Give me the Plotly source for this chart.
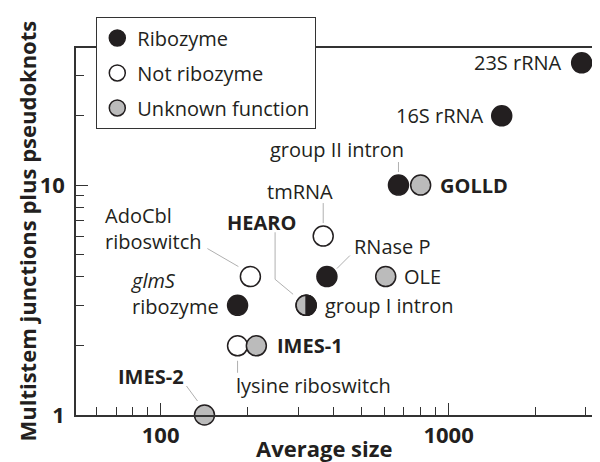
import numpy as np
import plotly.graph_objects as go

# RNA class data: average size (nt) vs multistem junctions + pseudoknots
ribo_names = ["23S rRNA", "16S rRNA", "group II intron", "RNase P", "glmS ribozyme", "group I intron"]
ribo_size = [2900, 1530, 670, 378, 185, 320]
ribo_mj = [34, 20, 10, 4, 3, 3]

notribo_names = ["tmRNA", "AdoCbl riboswitch", "lysine riboswitch"]
notribo_size = [367, 205, 185]
notribo_mj = [6, 4, 2]

unk_names = ["GOLLD", "OLE", "HEARO", "IMES-1", "IMES-2"]
unk_size = [800, 605, 320, 215, 142]
unk_mj = [10, 4, 3, 2, 1]

x_ticks = [100, 1000]
y_ticks = [1, 10]

INK = "#231f20"
GRAY = "#bbbbbb"
LEAD = "#b0b0b0"
FONT = "Open Sans"

# label text, pixel offset from the point (right, up), anchor
labels = {
    "23S rRNA": ("23S rRNA", -18, 0, "right"),
    "16S rRNA": ("16S rRNA", -16, 0, "right"),
    "group II intron": ("group II intron", -61, 36, "center"),
    "GOLLD": ("<b>GOLLD</b>", 17, 0, "left"),
    "tmRNA": ("tmRNA", -23, 45, "center"),
    "RNase P": ("RNase P", 25, 30, "left"),
    "OLE": ("OLE", 16, 0, "left"),
    "AdoCbl riboswitch": ("AdoCbl<br>riboswitch", -147, 48, "left"),
    "glmS ribozyme": ("<i>glmS</i><br>ribozyme", -109, 12, "left"),
    "HEARO": ("<b>HEARO</b>", -45, 83, "center"),
    "group I intron": ("group I intron", 17, 0, "left"),
    "IMES-1": ("<b>IMES-1</b>", 19, 0, "left"),
    "lysine riboswitch": ("lysine riboswitch", -4, -40, "left"),
    "IMES-2": ("<b>IMES-2</b>", -53, 39, "center"),
}

# leader lines, pixel points relative to the point
leaders = {
    "group II intron": [(0, 23), (0, 13)],
    "tmRNA": [(0, 33), (0, 13)],
    "RNase P": [(23, 21), (10, 8)],
    "AdoCbl riboswitch": [(-43, 28), (-12, 10)],
    "HEARO": [(-31, 73), (-31, 26), (-13, 11)],
    "lysine riboswitch": [(0, -15), (0, -27)],
    "IMES-2": [(-18, 29), (-7, 14)],
}

fig = go.Figure()

mk = dict(size=20, line=dict(color=INK, width=1.5))
fig.add_trace(go.Scatter(x=ribo_size, y=ribo_mj, mode="markers", name="Ribozyme",
                         legendgroup="a", cliponaxis=False,
                         marker=dict(color=INK, **mk)))
fig.add_trace(go.Scatter(x=notribo_size, y=notribo_mj, mode="markers", name="Not ribozyme",
                         legendgroup="b", cliponaxis=False,
                         marker=dict(color="white", **mk)))
fig.add_trace(go.Scatter(x=unk_size, y=unk_mj, mode="markers", name="Unknown function",
                         legendgroup="c", cliponaxis=False,
                         marker=dict(color=GRAY, **mk)))

points = {}
for n, s, m in zip(ribo_names, ribo_size, ribo_mj):
    points[n] = (s, m)
for n, s, m in zip(notribo_names, notribo_size, notribo_mj):
    points[n] = (s, m)
for n, s, m in zip(unk_names, unk_size, unk_mj):
    points[n] = (s, m)

# group I intron shares its spot with HEARO: right half black
gx, gy = points["group I intron"]
r, k = 10, 5.52
fig.add_shape(type="path", xref="x", yref="y", xsizemode="pixel", ysizemode="pixel",
              xanchor=gx, yanchor=gy,
              path=f"M 0,{r} C {k},{r} {r},{k} {r},0 C {r},{-k} {k},{-r} 0,{-r} Z",
              fillcolor=INK, line=dict(color=INK, width=1.5))

for name, pts in leaders.items():
    px_, py_ = points[name]
    path = "M " + " L ".join(f"{a},{b}" for a, b in pts)
    fig.add_shape(type="path", xref="x", yref="y", xsizemode="pixel", ysizemode="pixel",
                  xanchor=px_, yanchor=py_, path=path, line=dict(color=LEAD, width=1))

for name, (txt, dx, dy, anc) in labels.items():
    px_, py_ = points[name]
    fig.add_annotation(x=np.log10(px_), y=np.log10(py_), text=txt, showarrow=False,
                       xanchor=anc, yanchor="middle", align="left",
                       xshift=dx, yshift=dy,
                       font=dict(family=FONT, size=20, color=INK))

minor_x = [d * 10 ** e for e in (1, 2, 3) for d in range(2, 10)]
minor_y = [d * 10 ** e for e in (0, 1) for d in range(2, 10)]

axis_style = dict(type="log", ticks="inside", ticklen=12, tickwidth=1.3, tickcolor="#333",
                  showline=True, linecolor="#333", linewidth=1.5, mirror=True,
                  showgrid=False, zeroline=False,
                  tickfont=dict(family=FONT, size=22, color=INK, weight="bold"))
fig.update_xaxes(range=[1.706, 3.533], tickvals=x_ticks,
                 ticktext=[str(v) for v in x_ticks],
                 minor=dict(tickvals=minor_x, ticks="inside", ticklen=8,
                            tickwidth=1.3, tickcolor="#333", showgrid=False),
                 **axis_style)
fig.update_yaxes(range=[0, 1.596], tickvals=y_ticks,
                 ticktext=[str(v) for v in y_ticks], ticklabelstandoff=5,
                 minor=dict(tickvals=minor_y, ticks="inside", ticklen=8,
                            tickwidth=1.3, tickcolor="#333", showgrid=False),
                 **axis_style)

fig.add_annotation(xref="paper", yref="paper", x=0.473, y=0, yshift=-33,
                   text="<b>Average size</b>", showarrow=False, yanchor="middle",
                   font=dict(family=FONT, size=22, color=INK))
fig.add_annotation(xref="paper", yref="paper", x=0, y=0.5, xshift=-50,
                   text="<b>Multistem junctions plus pseudoknots</b>", textangle=-90,
                   showarrow=False, xanchor="center",
                   font=dict(family=FONT, size=22, color=INK))

fig.update_layout(
    width=600, height=462,
    margin=dict(l=68, r=4, t=40, b=55),
    plot_bgcolor="white", paper_bgcolor="white",
    showlegend=True,
    legend=dict(x=0.038, y=1.084, xanchor="left", yanchor="top",
                bgcolor="white", bordercolor="#333", borderwidth=1.3,
                tracegroupgap=6, font=dict(family=FONT, size=20, color=INK)),
)

fig.write_html("out.html")
